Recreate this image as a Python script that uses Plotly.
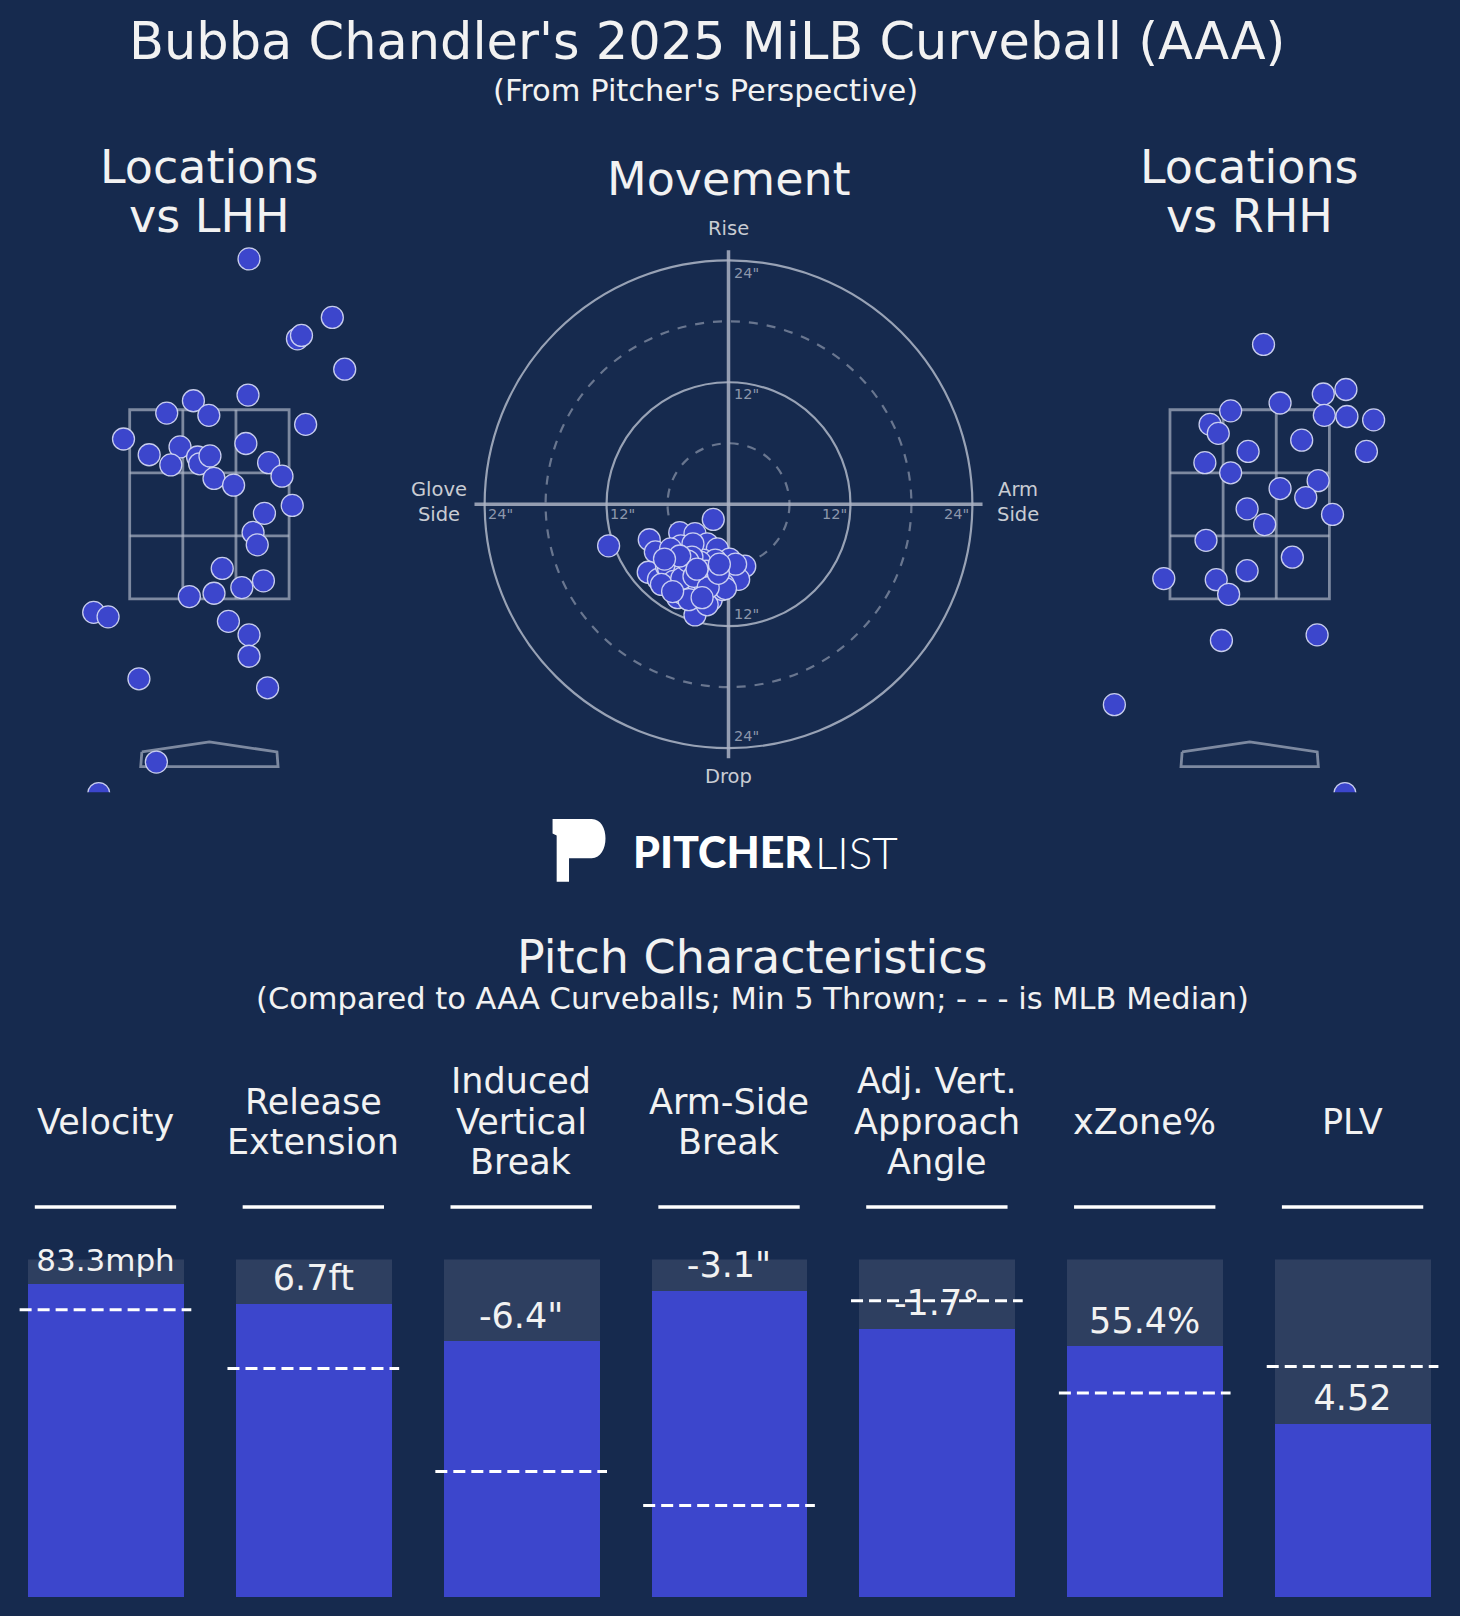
import plotly.graph_objects as go

# pitch locations vs LHH (plate_x, plate_z in feet, pitcher's view)
lhh_x = [0.352, 1.092, 0.782, 0.818, 1.202, 0.343, -0.142, -0.379, -0.005, 0.855,
         -0.763, 0.324, -0.535, -0.261, -0.105, -0.087, 0.005, -0.343, 0.526, 0.041,
         0.215, 0.645, 0.736, 0.489, 0.388, 0.425, 0.114, 0.480, 0.288, 0.041,
         -0.178, -1.028, -0.900, 0.169, 0.352, 0.352, -0.626, 0.517, -0.471, -0.983]
lhh_z = [4.62, 4.10, 3.91, 3.94, 3.64, 3.41, 3.36, 3.25, 3.23, 3.15,
         3.02, 2.98, 2.88, 2.95, 2.86, 2.80, 2.87, 2.79, 2.81, 2.67,
         2.61, 2.69, 2.43, 2.36, 2.19, 2.08, 1.87, 1.76, 1.70, 1.65,
         1.62, 1.48, 1.44, 1.40, 1.28, 1.09, 0.89, 0.81, 0.15, -0.13]

# pitch locations vs RHH
rhh_x = [0.123, -0.169, 0.270, 0.654, 0.855, 0.663, 0.864, 1.101, -0.352, -0.279,
         0.462, -0.014, 1.037, -0.398, -0.169, 0.270, 0.608, 0.498, 0.736, -0.023,
         0.133, -0.388, 0.379, -0.763, -0.297, -0.023, -0.187, -0.251, 0.599, -1.202,
         0.846]
rhh_z = [3.86, 3.27, 3.34, 3.42, 3.46, 3.23, 3.22, 3.19, 3.15, 3.07,
         3.01, 2.91, 2.91, 2.81, 2.72, 2.58, 2.65, 2.50, 2.35, 2.40,
         2.26, 2.12, 1.97, 1.78, 1.77, 1.85, 1.64, 1.23, 1.28, 0.66,
         -0.13]

# movement (inches): horizontal break (arm side +), induced vertical break
hb = [-1.5, -11.8, -7.8, -7.2, -4.8, -3.3, -4.7, -3.2, -2.1, -1.1,
      0.1, 1.6, 1.0, -1.2, -2.7, -4.6, -5.7, -7.9, -6.9, -5.0,
      -3.0, -1.7, -0.6, -3.3, -2.1, -4.1, -3.7, -5.1, -4.5, -1.7,
      -2.5, -1.3, -0.5, -6.1, -2.9, 0.7, -3.5, -5.7, -5.9, -4.3,
      -3.8, -2.5, -0.3, -5.4, -6.6, -2.8, -4.6, -3.6, -2.2, -4.0,
      -3.4, -2.0, -4.8, -1.0, -3.9, -2.6, -6.3, -0.9, -5.5, -3.1]
ivb = [-1.5, -4.1, -3.5, -4.7, -2.8, -2.9, -4.1, -4.8, -3.9, -4.4,
       -5.4, -6.1, -7.4, -6.6, -7.0, -6.4, -7.2, -6.7, -7.4, -9.2,
       -8.6, -9.4, -8.4, -10.9, -9.9, -7.5, -6.1, -7.9, -8.8, -7.5,
       -5.5, -5.5, -7.9, -6.1, -7.9, -5.9, -3.9, -4.4, -6.3, -6.6,
       -6.3, -7.6, -8.3, -7.6, -7.9, -5.7, -7.3, -5.2, -6.6, -5.6,
       -7.1, -8.2, -5.1, -6.8, -9.4, -9.2, -5.4, -5.9, -8.6, -6.4]

# pitch characteristics
metrics = ["Velocity", "Release\nExtension", "Induced\nVertical\nBreak", "Arm-Side\nBreak",
           "Adj. Vert.\nApproach\nAngle", "xZone%", "PLV"]
value_text = ["83.3mph", "6.7ft", '-6.4"', '-3.1"', "-1.7°", "55.4%", "4.52"]
pctile = [92.7, 86.6, 75.6, 90.5, 79.3, 74.1, 51.2]
median_pct = [85.1, 67.7, 37.2, 27.1, 87.8, 60.4, 68.3]

# strike zone / plate outline (feet)
sz_left, sz_right, sz_bot, sz_top = -0.708, 0.708, 1.6, 3.28
plate_x = [-0.6, 0.0, 0.6, 0.61, -0.61, -0.6]
plate_z = [0.24, 0.33, 0.24, 0.11, 0.11, 0.24]

BG = "#162a4e"
BLUE = "#3c46cc"
GREY_BAR = "#2e3f60"
TXT = "#f2f2f2"
FONT = "DejaVu Sans"

W0, H0 = 1418.9, 1570.5   # layout reference grid


def px(x):
    return x / W0


def py(y):
    return 1 - y / H0


fig = go.Figure()
marker = dict(size=22, color=BLUE, line=dict(color="rgba(215,220,245,0.9)", width=1.3))
zone_line = dict(color="rgba(170,178,195,0.7)", width=2.8)

# location panels
loc_scale = 109.4
for xs, zs, ax, cx in [(lhh_x, lhh_z, "", 203.5), (rhh_x, rhh_z, "3", 1214.5)]:
    fig.add_trace(go.Scatter(x=plate_x, y=plate_z, mode="lines", line=zone_line,
                             xaxis="x" + ax, yaxis="y" + ax, hoverinfo="skip"))
    fig.add_trace(go.Scatter(x=xs, y=zs, mode="markers", marker=marker,
                             xaxis="x" + ax, yaxis="y" + ax))
    xr = [-1.4, 1.4]
    yr = [-0.118, 4.85]
    fig.layout["xaxis" + ax] = dict(domain=[px(cx + xr[0] * loc_scale), px(cx + xr[1] * loc_scale)],
                                    range=xr, visible=False, fixedrange=True)
    fig.layout["yaxis" + ax] = dict(domain=[py(582 - (yr[0] - sz_bot) * loc_scale),
                                            py(582 - (yr[1] - sz_bot) * loc_scale)],
                                    range=yr, visible=False, fixedrange=True)
    xref, yref = "x" + ax, "y" + ax
    fig.add_shape(type="rect", x0=sz_left, x1=sz_right, y0=sz_bot, y1=sz_top,
                  xref=xref, yref=yref, line=zone_line, layer="below")
    for k in (1, 2):
        xv = sz_left + k * (sz_right - sz_left) / 3
        zv = sz_bot + k * (sz_top - sz_bot) / 3
        fig.add_shape(type="line", x0=xv, x1=xv, y0=sz_bot, y1=sz_top,
                      xref=xref, yref=yref, line=zone_line, layer="below")
        fig.add_shape(type="line", x0=sz_left, x1=sz_right, y0=zv, y1=zv,
                      xref=xref, yref=yref, line=zone_line, layer="below")

# movement panel
mv_scale = 9.875
mv_lim = 30
fig.add_trace(go.Scatter(x=hb, y=ivb, mode="markers", marker=marker, xaxis="x2", yaxis="y2"))
fig.layout.xaxis2 = dict(domain=[px(708 - mv_lim * mv_scale), px(708 + mv_lim * mv_scale)],
                         range=[-mv_lim, mv_lim], visible=False, fixedrange=True)
fig.layout.yaxis2 = dict(domain=[py(490 + mv_lim * mv_scale), py(490 - mv_lim * mv_scale)],
                         range=[-mv_lim, mv_lim], visible=False, fixedrange=True)
for r in (6, 12, 18, 24):
    solid = r % 12 == 0
    fig.add_shape(type="circle", x0=-r, x1=r, y0=-r, y1=r, xref="x2", yref="y2", layer="below",
                  line=dict(color="rgba(185,192,208,0.8)" if solid else "rgba(120,132,155,0.85)",
                            width=2.2, dash="solid" if solid else "dash"))
cross = dict(color="rgba(170,178,195,0.85)", width=3.5)
fig.add_shape(type="line", x0=-25, x1=25, y0=0, y1=0, xref="x2", yref="y2", line=cross, layer="below")
fig.add_shape(type="line", x0=0, x1=0, y0=-25, y1=25, xref="x2", yref="y2", line=cross, layer="below")
tick_font = dict(family=FONT, size=14.5, color="#8d97ab")
for r in (12, 24):
    for s in (1, -1):
        fig.add_annotation(x=0.3, y=s * (r - 1.2), text=f'{r}"', xref="x2", yref="y2",
                           showarrow=False, xanchor="left", yanchor="middle", font=tick_font)
        fig.add_annotation(x=s * (r - 1.6), y=-1.0, text=f'{r}"', xref="x2", yref="y2",
                           showarrow=False, xanchor="center", yanchor="middle", font=tick_font)
side_font = dict(family=FONT, size=19.5, color="#c9ccd3")
for txt, xx, yy in [("Rise", 0, 27.1), ("Drop", 0, -26.8),
                    ("Glove<br>Side", -28.5, 0.2), ("Arm<br>Side", 28.5, 0.2)]:
    fig.add_annotation(x=xx, y=yy, text=txt, xref="x2", yref="y2", showarrow=False,
                       xanchor="center", yanchor="middle", font=side_font)

# pitch characteristic bars
cats = list(range(len(metrics)))
fig.add_trace(go.Bar(x=cats, y=[100] * len(cats), marker=dict(color=GREY_BAR, line=dict(width=0)),
                     width=0.75, xaxis="x4", yaxis="y4"))
fig.add_trace(go.Bar(x=cats, y=pctile, marker=dict(color=BLUE, line=dict(width=0)),
                     width=0.75, xaxis="x4", yaxis="y4"))
fig.add_trace(go.Scatter(x=cats, y=[min(p + 6.8, 98.8) for p in pctile], mode="text",
                         text=value_text, xaxis="x4", yaxis="y4", cliponaxis=False,
                         textfont=dict(family=FONT, color=TXT,
                                       size=[31 if len(t) > 6 else 35 for t in value_text])))
fig.layout.xaxis4 = dict(domain=[px(1.5), px(1415.5)], range=[-0.5, 6.5], visible=False, fixedrange=True)
fig.layout.yaxis4 = dict(domain=[py(1552), py(1224)], range=[0, 100], visible=False, fixedrange=True)
for i, m in enumerate(median_pct):
    fig.add_shape(type="line", x0=i - 0.413, x1=i + 0.413, y0=m, y1=m, xref="x4", yref="y4",
                  line=dict(color="white", width=3, dash="12px,6px"))
    fig.add_shape(type="line", x0=i - 0.34, x1=i + 0.34, y0=py(1173), y1=py(1173), xref="x4",
                  yref="paper", line=dict(color="white", width=3.5))
    lines = metrics[i].split("\n")
    for k, ln in enumerate(lines):
        yk = 1090 + (k - (len(lines) - 1) / 2) * 39
        fig.add_annotation(x=i, y=py(yk), xref="x4", yref="paper", text=ln, showarrow=False,
                           xanchor="center", yanchor="middle",
                           font=dict(family=FONT, size=35, color=TXT))


# titles
def title(text, x, y, size):
    fig.add_annotation(x=px(x), y=py(y), xref="paper", yref="paper", text=text, showarrow=False,
                       xanchor="center", yanchor="middle",
                       font=dict(family=FONT, size=size, color=TXT))


title("Bubba Chandler's 2025 MiLB Curveball (AAA)", 687, 40, 51)
title("(From Pitcher's Perspective)", 686, 88, 30.5)
title("Locations", 203.5, 162, 46)
title("vs LHH", 203.5, 210, 46)
title("Movement", 708, 174, 46)
title("Locations", 1214.5, 162, 46)
title("vs RHH", 1214.5, 210, 46)
title("Pitch Characteristics", 731, 930, 46)
title("(Compared to AAA Curveballs; Min 5 Thrown; - - - is MLB Median)", 731, 970, 30.5)

# logo
logo = [(537, 796), (575, 796), (593, 796), (593, 834), (575, 834), (553, 834), (553, 857),
        (541, 857), (541, 812), (537, 810)]
(p0, p1, c1, c2, p2, p3, p4, p5, p6, p7) = [(px(a), py(b)) for a, b in logo]
path = (f"M {p0[0]},{p0[1]} L {p1[0]},{p1[1]} C {c1[0]},{c1[1]} {c2[0]},{c2[1]} {p2[0]},{p2[1]} "
        f"L {p3[0]},{p3[1]} L {p4[0]},{p4[1]} L {p5[0]},{p5[1]} L {p6[0]},{p6[1]} L {p7[0]},{p7[1]} Z")
fig.add_shape(type="path", path=path, xref="paper", yref="paper",
              fillcolor="white", line=dict(width=0))
fig.add_annotation(x=px(613), y=py(828), xref="paper", yref="paper", text="PITCHER", showarrow=False,
                   xanchor="left", yanchor="middle",
                   font=dict(family="Lato", size=43, color="white", weight=900))
fig.add_annotation(x=px(790), y=py(828), xref="paper", yref="paper", text="LIST", showarrow=False,
                   xanchor="left", yanchor="middle",
                   font=dict(family="Lato", size=44, color="white", weight=300))

fig.update_layout(width=1460, height=1616, margin=dict(l=0, r=0, t=0, b=0),
                  paper_bgcolor=BG, plot_bgcolor=BG, showlegend=False, barmode="overlay",
                  bargap=0)
fig.write_html("out.html", config={"displayModeBar": False},
               post_script="document.body.style.margin='0px';")
